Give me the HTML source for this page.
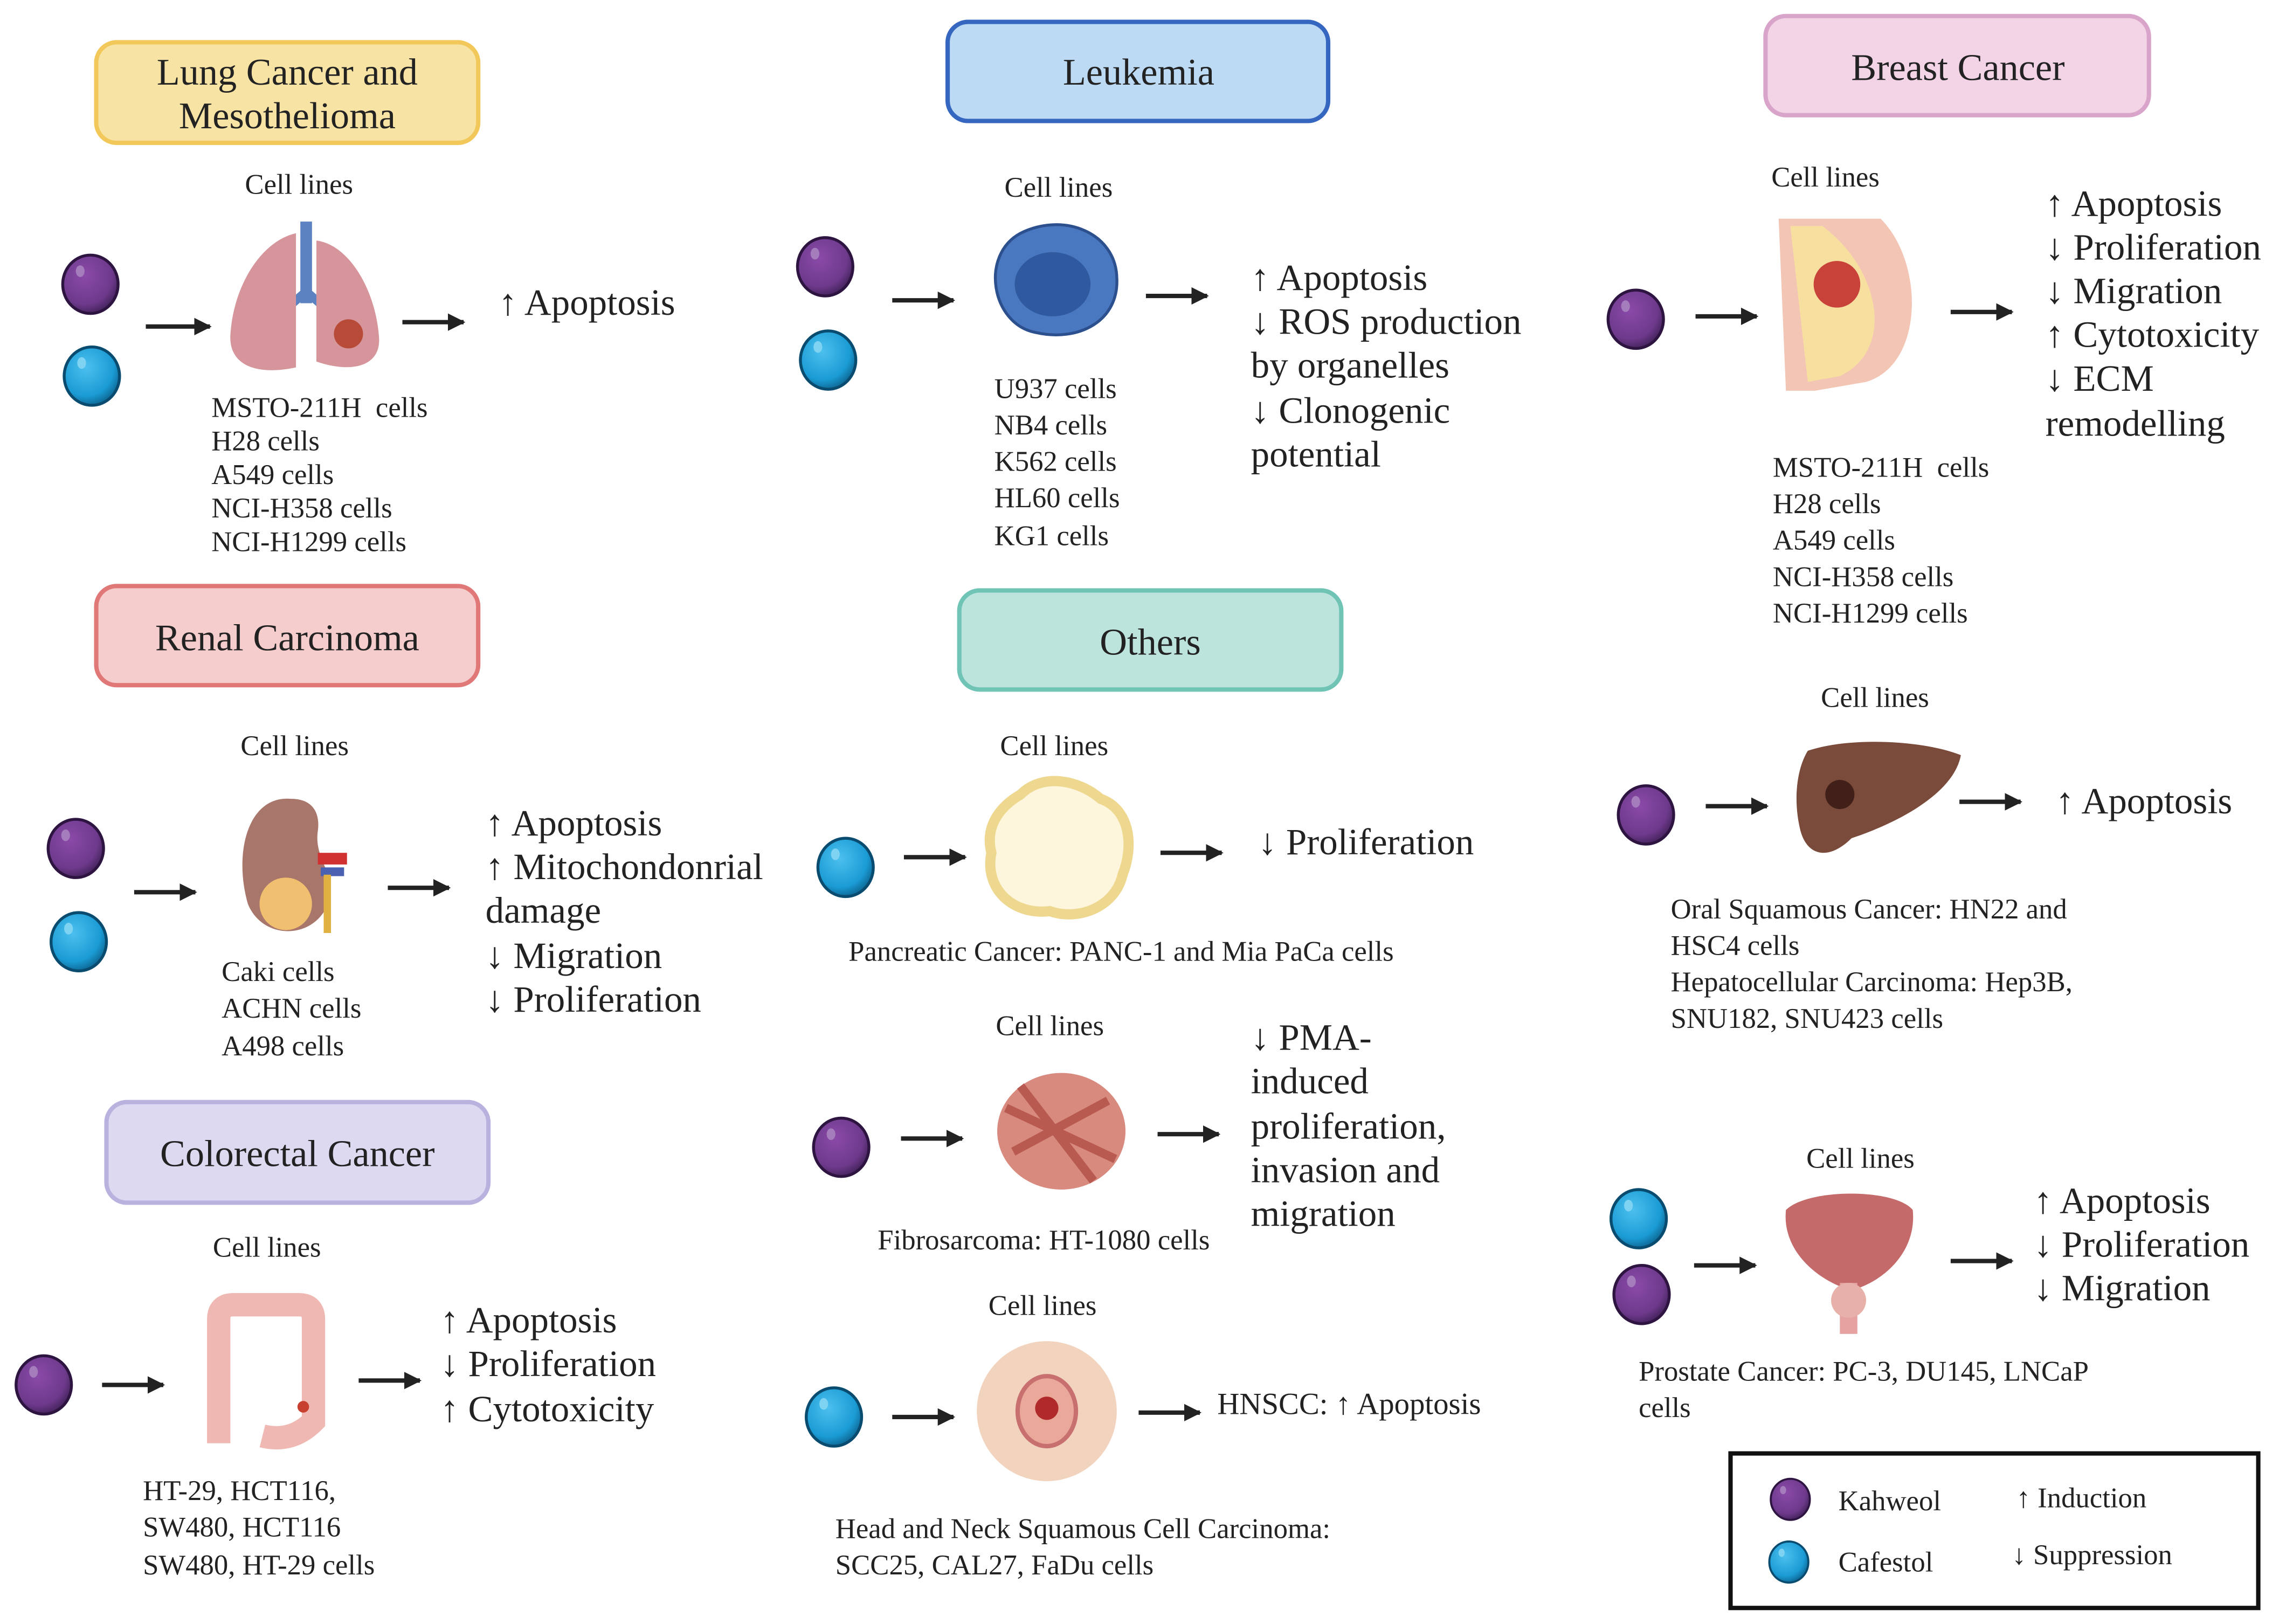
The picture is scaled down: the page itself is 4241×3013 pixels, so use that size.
<!DOCTYPE html>
<html><head><meta charset="utf-8"><style>
html,body{margin:0;padding:0;background:#fff;}
svg{display:block;}
text{font-family:"Liberation Serif",serif;fill:#222;}
.h{font-size:26px;text-anchor:middle;}
.r{font-size:25.5px;}
.c{font-size:19.5px;}
</style></head><body>
<svg width="4241" height="3013" viewBox="0 0 1568 1114" xmlns="http://www.w3.org/2000/svg">
<defs>
<radialGradient id="gp" cx="0.4" cy="0.35" r="0.7"><stop offset="0" stop-color="#8a4aa8"/><stop offset="0.7" stop-color="#6e3a8c"/><stop offset="1" stop-color="#3e1f55"/></radialGradient>
<radialGradient id="gb" cx="0.4" cy="0.35" r="0.7"><stop offset="0" stop-color="#4cc0ee"/><stop offset="0.7" stop-color="#1b9bd4"/><stop offset="1" stop-color="#0b5f8a"/></radialGradient>
<marker id="ah" viewBox="0 0 10 10" refX="9" refY="5" markerWidth="4" markerHeight="4" orient="auto"><path d="M0,0L10,5L0,10z" fill="#222"/></marker>
<symbol id="P" viewBox="-21 -22 42 44"><ellipse cx="0" cy="0" rx="19" ry="20" fill="url(#gp)" stroke="#2e1440" stroke-width="2"/><ellipse cx="-7" cy="-9" rx="3" ry="4" fill="#a57dbd"/></symbol>
<symbol id="B" viewBox="-21 -22 42 44"><ellipse cx="0" cy="0" rx="19" ry="20" fill="url(#gb)" stroke="#0a4c70" stroke-width="2"/><ellipse cx="-7" cy="-9" rx="3" ry="4" fill="#7fd3f2"/></symbol>
</defs>
<g stroke-width="3">
<rect x="66" y="29" width="262" height="69" rx="14" fill="#f7e3a3" stroke="#f3c85a"/>
<rect x="650" y="15" width="261" height="68" rx="14" fill="#bcdaf3" stroke="#3566c0"/>
<rect x="1211" y="11" width="263" height="68" rx="14" fill="#f3d4e7" stroke="#d9a4c9"/>
<rect x="66" y="402" width="262" height="68" rx="14" fill="#f5cdcd" stroke="#e07878"/>
<rect x="658" y="405" width="262" height="68" rx="14" fill="#bce4dd" stroke="#6fc4b6"/>
<rect x="73" y="756" width="262" height="69" rx="14" fill="#ddd9f0" stroke="#bab2de"/>
</g>
<text class="h" x="197" y="58">Lung Cancer and</text><text class="h" x="197" y="88">Mesothelioma</text>
<text class="h" x="781" y="58">Leukemia</text>
<text class="h" x="1343" y="55">Breast Cancer</text>
<text class="h" x="197" y="446">Renal Carcinoma</text>
<text class="h" x="789" y="449">Others</text>
<text class="h" x="204" y="800">Colorectal Cancer</text>

<g stroke="#222" stroke-width="3" marker-end="url(#ah)">
<line x1="100" y1="224" x2="144" y2="224"/><line x1="276" y1="221" x2="318" y2="221"/>
<line x1="612" y1="206" x2="654" y2="206"/><line x1="786" y1="203" x2="828" y2="203"/>
<line x1="1163" y1="217" x2="1205" y2="217"/><line x1="1338" y1="214" x2="1380" y2="214"/>
<line x1="92" y1="612" x2="134" y2="612"/><line x1="266" y1="609" x2="308" y2="609"/>
<line x1="620" y1="588" x2="662" y2="588"/><line x1="796" y1="585" x2="838" y2="585"/>
<line x1="1170" y1="553" x2="1212" y2="553"/><line x1="1344" y1="550" x2="1386" y2="550"/>
<line x1="618" y1="781" x2="660" y2="781"/><line x1="794" y1="778" x2="836" y2="778"/>
<line x1="70" y1="950" x2="112" y2="950"/><line x1="246" y1="947" x2="288" y2="947"/>
<line x1="612" y1="972" x2="654" y2="972"/><line x1="781" y1="969" x2="823" y2="969"/>
<line x1="1162" y1="868" x2="1204" y2="868"/><line x1="1338" y1="865" x2="1380" y2="865"/>
</g>

<use href="#P" x="41" y="173" width="42" height="44"/><use href="#B" x="42" y="236" width="42" height="44"/>
<use href="#P" x="545" y="161" width="42" height="44"/><use href="#B" x="547" y="225" width="42" height="44"/>
<use href="#P" x="1101" y="197" width="42" height="44"/>
<use href="#P" x="31" y="560" width="42" height="44"/><use href="#B" x="33" y="624" width="42" height="44"/>
<use href="#B" x="559" y="573" width="42" height="44"/>
<use href="#P" x="1108" y="537" width="42" height="44"/>
<use href="#P" x="556" y="765" width="42" height="44"/>
<use href="#P" x="9" y="928" width="42" height="44"/>
<use href="#B" x="551" y="950" width="42" height="44"/>
<use href="#B" x="1103" y="814" width="42" height="44"/><use href="#P" x="1105" y="866" width="42" height="44"/>
<use href="#P" x="1213" y="1013" width="30" height="31"/><use href="#B" x="1212" y="1056" width="30" height="31"/>

<!-- lung -->
<g><rect x="206" y="152" width="8" height="56" fill="#5d82c2"/><path d="M210,200 L196,212 M210,200 L224,212" stroke="#5d82c2" stroke-width="6"/>
<path d="M203,160 C180,165 160,195 158,230 C157,250 175,258 203,252 Z" fill="#d6949b"/>
<path d="M217,165 C240,168 258,200 260,232 C261,252 240,256 217,248 Z" fill="#d6949b"/>
<circle cx="239" cy="229" r="10" fill="#b84a38"/></g>
<!-- leukemia cell -->
<path d="M700,160 C730,145 765,160 766,190 C768,220 740,235 710,228 C680,222 672,175 700,160Z" fill="#4a78c0" stroke="#2c4f8e" stroke-width="2"/>
<ellipse cx="722" cy="195" rx="26" ry="22" fill="#2f5aa0"/>
<!-- breast -->
<path d="M1220,150 L1290,150 C1320,180 1320,250 1280,262 L1245,268 L1225,268 Z" fill="#f3c5b5"/>
<path d="M1228,155 L1250,155 C1290,185 1300,240 1262,258 L1240,262Z" fill="#f7dfa0"/>
<circle cx="1260" cy="195" r="16" fill="#c8423a"/>
<!-- kidney -->
<path d="M200,548 C170,545 160,585 170,620 C180,645 215,645 225,620 C232,600 215,590 218,570 C220,555 212,548 200,548Z" fill="#a8766a"/>
<circle cx="196" cy="620" r="18" fill="#f0c070"/><rect x="218" y="585" width="20" height="8" fill="#d03030"/><rect x="220" y="595" width="16" height="6" fill="#4a60b0"/><rect x="222" y="600" width="5" height="40" fill="#e0b040"/>
<!-- pancreatic -->
<path d="M700,545 C715,530 740,535 755,548 C775,555 778,580 770,600 C765,622 740,632 720,625 C695,628 675,610 680,585 C675,565 688,552 700,545Z" fill="#fdf6dc" stroke="#eed890" stroke-width="7"/>
<!-- fibrosarcoma -->
<ellipse cx="728" cy="776" rx="44" ry="40" fill="#d98a7e"/><path d="M690,760 L765,795 M695,790 L760,755 M700,745 L750,810" stroke="#b85a50" stroke-width="6"/>
<!-- HNSCC -->
<circle cx="718" cy="968" r="48" fill="#f2d3bd"/><ellipse cx="718" cy="968" rx="20" ry="24" fill="#e9a89a" stroke="#c87070" stroke-width="3"/><circle cx="718" cy="966" r="8" fill="#b02a2a"/>
<!-- liver -->
<path d="M1240,515 C1270,505 1320,508 1345,518 C1340,545 1300,565 1270,575 C1255,590 1240,588 1235,570 C1230,550 1232,528 1240,515Z" fill="#7a4a3a"/><circle cx="1262" cy="545" r="10" fill="#402018"/>
<!-- colon -->
<path d="M150,990 L150,905 Q150,895 160,895 L205,895 Q215,895 215,905 L215,975 Q200,990 180,985" fill="none" stroke="#f0b8b2" stroke-width="16"/>
<circle cx="208" cy="965" r="4" fill="#c84030"/>
<!-- prostate -->
<path d="M1225,830 C1240,815 1300,815 1312,830 C1315,860 1290,880 1270,885 C1250,880 1222,860 1225,830Z" fill="#c56a6a"/><rect x="1262" y="880" width="12" height="35" fill="#e6a1a1"/><circle cx="1268" cy="892" r="12" fill="#e7b0a8"/>

<text class="c" x="168" y="133">Cell lines</text>
<text class="c" x="145" y="286" xml:space="preserve">MSTO-211H  cells</text><text class="c" x="145" y="309">H28 cells</text><text class="c" x="145" y="332">A549 cells</text><text class="c" x="145" y="355">NCI-H358 cells</text><text class="c" x="145" y="378">NCI-H1299 cells</text>
<text class="r" x="342" y="216">↑ Apoptosis</text>

<text class="c" x="689" y="135">Cell lines</text>
<text class="c" x="682" y="273">U937 cells</text><text class="c" x="682" y="298">NB4 cells</text><text class="c" x="682" y="323">K562 cells</text><text class="c" x="682" y="348">HL60 cells</text><text class="c" x="682" y="374">KG1 cells</text>
<text class="r" x="858" y="199">↑ Apoptosis</text><text class="r" x="858" y="229">↓ ROS production</text><text class="r" x="858" y="259">by organelles</text><text class="r" x="858" y="290">↓ Clonogenic</text><text class="r" x="858" y="320">potential</text>

<text class="c" x="1215" y="128">Cell lines</text>
<text class="r" x="1403" y="148">↑ Apoptosis</text><text class="r" x="1403" y="178">↓ Proliferation</text><text class="r" x="1403" y="208">↓ Migration</text><text class="r" x="1403" y="238">↑ Cytotoxicity</text><text class="r" x="1403" y="268">↓ ECM</text><text class="r" x="1403" y="299">remodelling</text>
<text class="c" x="1216" y="327" xml:space="preserve">MSTO-211H  cells</text><text class="c" x="1216" y="352">H28 cells</text><text class="c" x="1216" y="377">A549 cells</text><text class="c" x="1216" y="402">NCI-H358 cells</text><text class="c" x="1216" y="427">NCI-H1299 cells</text>

<text class="c" x="165" y="518">Cell lines</text>
<text class="c" x="152" y="673">Caki cells</text><text class="c" x="152" y="698">ACHN cells</text><text class="c" x="152" y="724">A498 cells</text>
<text class="r" x="333" y="573">↑ Apoptosis</text><text class="r" x="333" y="603">↑ Mitochondonrial</text><text class="r" x="333" y="633">damage</text><text class="r" x="333" y="664">↓ Migration</text><text class="r" x="333" y="694">↓ Proliferation</text>

<text class="c" x="686" y="518">Cell lines</text>
<text class="r" x="863" y="586">↓ Proliferation</text>
<text class="c" x="582" y="659">Pancreatic Cancer: PANC-1 and Mia PaCa cells</text>

<text class="c" x="1249" y="485">Cell lines</text>
<text class="r" x="1410" y="558">↑ Apoptosis</text>
<text class="c" x="1146" y="630">Oral Squamous Cancer: HN22 and</text><text class="c" x="1146" y="655">HSC4 cells</text><text class="c" x="1146" y="680">Hepatocellular Carcinoma: Hep3B,</text><text class="c" x="1146" y="705">SNU182, SNU423 cells</text>

<text class="c" x="683" y="710">Cell lines</text>
<text class="r" x="858" y="720">↓ PMA-</text><text class="r" x="858" y="750">induced</text><text class="r" x="858" y="781">proliferation,</text><text class="r" x="858" y="811">invasion and</text><text class="r" x="858" y="841">migration</text>
<text class="c" x="602" y="857">Fibrosarcoma: HT-1080 cells</text>

<text class="c" x="146" y="862">Cell lines</text>
<text class="r" x="302" y="914">↑ Apoptosis</text><text class="r" x="302" y="944">↓ Proliferation</text><text class="r" x="302" y="975">↑ Cytotoxicity</text>
<text class="c" x="98" y="1029">HT-29, HCT116,</text><text class="c" x="98" y="1054">SW480, HCT116</text><text class="c" x="98" y="1080">SW480, HT-29 cells</text>

<text class="c" x="678" y="902">Cell lines</text>
<text class="c" x="835" y="970" style="font-size:21px">HNSCC: ↑ Apoptosis</text>
<text class="c" x="573" y="1055">Head and Neck Squamous Cell Carcinoma:</text><text class="c" x="573" y="1080">SCC25, CAL27, FaDu cells</text>

<text class="c" x="1239" y="801">Cell lines</text>
<text class="r" x="1395" y="832">↑ Apoptosis</text><text class="r" x="1395" y="862">↓ Proliferation</text><text class="r" x="1395" y="892">↓ Migration</text>
<text class="c" x="1124" y="947">Prostate Cancer: PC-3, DU145, LNCaP</text><text class="c" x="1124" y="972">cells</text>

<rect x="1187" y="997" width="362" height="106" fill="none" stroke="#111" stroke-width="3"/>
<text class="c" x="1261" y="1036">Kahweol</text><text class="c" x="1261" y="1078">Cafestol</text>
<text class="c" x="1383" y="1034">↑ Induction</text><text class="c" x="1380" y="1073">↓ Suppression</text>
</svg>
</body></html>
